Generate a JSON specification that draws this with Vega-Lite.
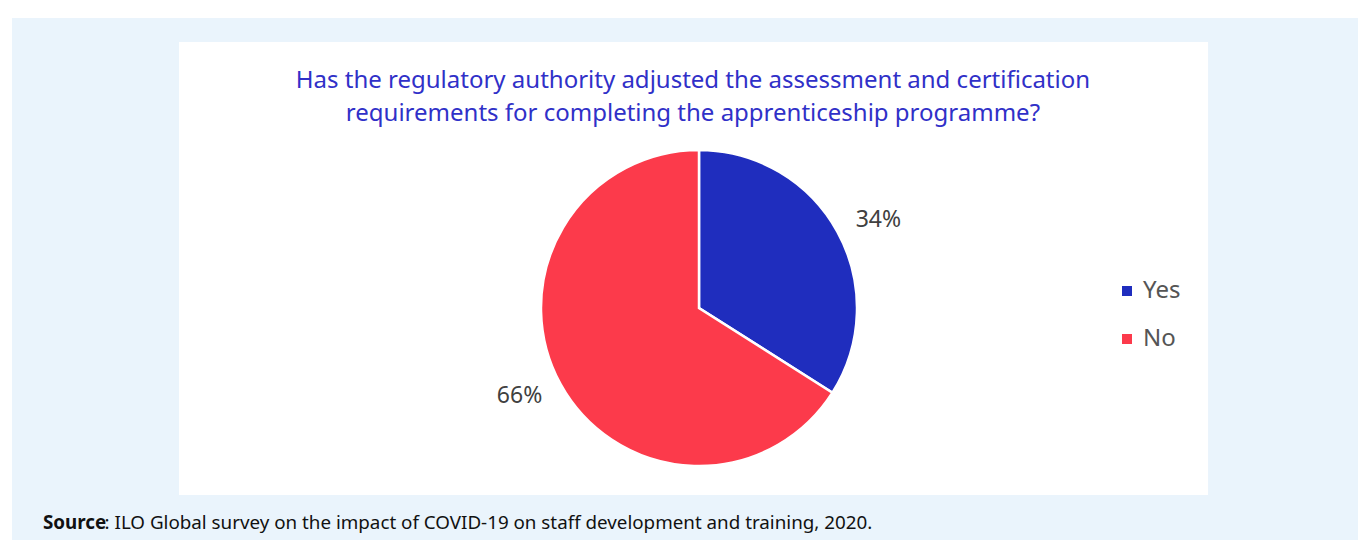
{
  "$schema": "https://vega.github.io/schema/vega-lite/v6.json",
  "width": 1346,
  "height": 522,
  "autosize": {"type": "none"},
  "padding": {"left": 12, "top": 18, "right": 0, "bottom": 0},
  "background": "white",
  "config": {"view": {"fill": "#EAF4FC", "stroke": null}, "font": "Noto Sans"},
  "layer": [
    {
      "data": {"values": [{"box": "panel"}]},
      "mark": {"type": "rect", "color": "white"},
      "encoding": {
        "x": {"datum": 0.1241, "type": "quantitative", "scale": {"domain": [0, 1]}, "axis": null},
        "x2": {"datum": 0.8886},
        "y": {"datum": 0.046, "type": "quantitative", "scale": {"domain": [0, 1], "reverse": true}, "axis": null},
        "y2": {"datum": 0.9138}
      }
    },
    {
      "data": {"values": [
        {"answer": "Yes", "share": 34, "ord": 1, "label": "34%"},
        {"answer": "No", "share": 66, "ord": 2, "label": "66%"}
      ]},
      "layer": [
        {
          "mark": {"type": "arc", "outerRadius": 158, "stroke": "white", "strokeWidth": 2.5},
          "encoding": {
            "theta": {"field": "share", "type": "quantitative", "stack": true},
            "order": {"field": "ord", "type": "quantitative"},
            "color": {
              "field": "answer", "type": "nominal",
              "scale": {"domain": ["Yes", "No"], "range": ["#1F2DBE", "#FC3A4B"]},
              "legend": {
                "orient": "none", "legendX": 1103, "legendY": 261, "title": null,
                "symbolType": "square", "symbolSize": 100, "symbolStrokeWidth": 0,
                "labelFontSize": 24, "labelColor": "#555555", "labelOffset": 4,
                "rowPadding": 24, "labelFont": "Noto Sans"
              }
            },
            "x": {"datum": 0.5104, "type": "quantitative", "scale": {"domain": [0, 1]}, "axis": null},
            "y": {"datum": 0.5556, "type": "quantitative", "scale": {"domain": [0, 1], "reverse": true}, "axis": null}
          }
        },
        {
          "mark": {"type": "text", "radius": 200, "thetaOffset": 0.045, "fontSize": 23, "color": "#404040", "font": "Noto Sans"},
          "encoding": {
            "theta": {"field": "share", "type": "quantitative", "stack": true},
            "order": {"field": "ord", "type": "quantitative"},
            "text": {"field": "label", "type": "nominal"},
            "x": {"datum": 0.5104, "type": "quantitative", "scale": {"domain": [0, 1]}, "axis": null},
            "y": {"datum": 0.5556, "type": "quantitative", "scale": {"domain": [0, 1], "reverse": true}, "axis": null}
          }
        }
      ]
    },
    {
      "data": {"values": [
        {"line": "Has the regulatory authority adjusted the assessment and certification", "row": 1},
        {"line": "requirements for completing the apprenticeship programme?", "row": 2}
      ]},
      "mark": {"type": "text", "fontSize": 24, "color": "#3030C8", "font": "Noto Sans", "align": "center", "baseline": "middle"},
      "encoding": {
        "x": {"datum": 0.5059, "type": "quantitative", "scale": {"domain": [0, 1]}, "axis": null},
        "y": {"datum": 0.1207, "type": "quantitative", "scale": {"domain": [0, 1], "reverse": true}, "axis": null},
        "yOffset": {"field": "row", "type": "quantitative", "scale": {"domain": [1, 2], "range": [0, 33]}},
        "text": {"field": "line", "type": "nominal"}
      }
    },
    {
      "data": {"values": [{"part": "Source"}]},
      "mark": {"type": "text", "fontSize": 18.8, "fontWeight": "bold", "color": "#111111", "font": "Noto Sans", "align": "left", "baseline": "middle"},
      "encoding": {
        "x": {"datum": 0.023, "type": "quantitative", "scale": {"domain": [0, 1]}, "axis": null},
        "y": {"datum": 0.9674, "type": "quantitative", "scale": {"domain": [0, 1], "reverse": true}, "axis": null},
        "text": {"field": "part", "type": "nominal"}
      }
    },
    {
      "data": {"values": [{"part": ": ILO Global survey on the impact of COVID-19 on staff development and training, 2020."}]},
      "mark": {"type": "text", "fontSize": 18.8, "color": "#111111", "font": "Noto Sans", "align": "left", "baseline": "middle"},
      "encoding": {
        "x": {"datum": 0.0688, "type": "quantitative", "scale": {"domain": [0, 1]}, "axis": null},
        "y": {"datum": 0.9674, "type": "quantitative", "scale": {"domain": [0, 1], "reverse": true}, "axis": null},
        "text": {"field": "part", "type": "nominal"}
      }
    }
  ]
}
